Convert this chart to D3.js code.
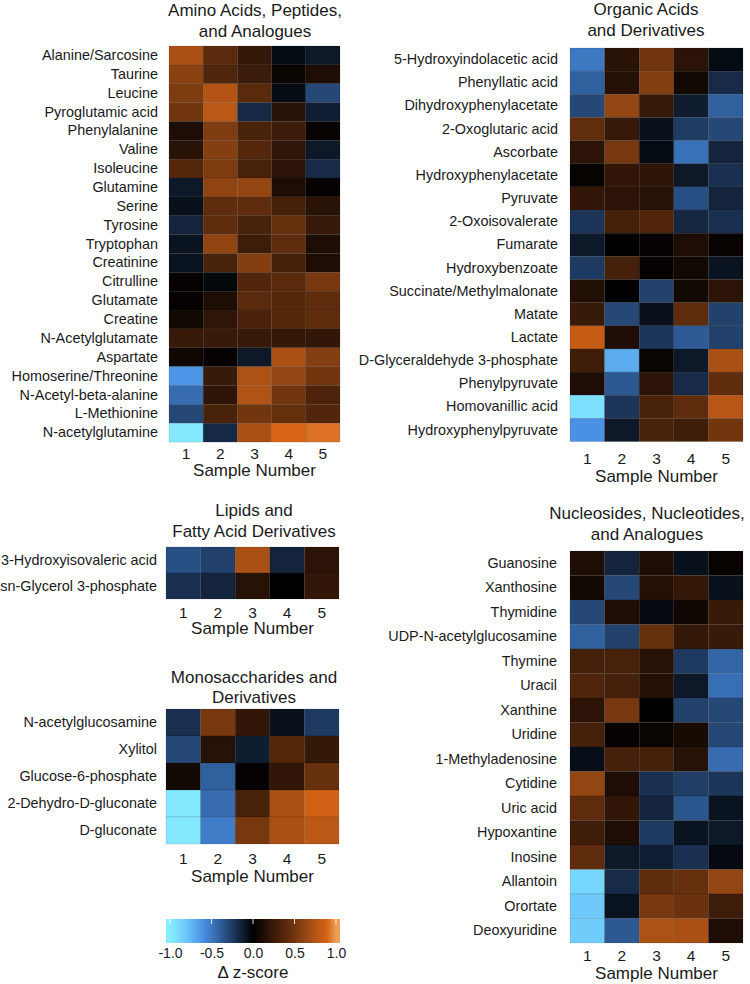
<!DOCTYPE html>
<html>
<head>
<meta charset="utf-8">
<script src="https://cdn.jsdelivr.net/npm/d3@7"></script>
<style>
  html, body { margin: 0; padding: 0; background: #fff; }
  svg { display: block; }
  text { font-family: "Liberation Sans", Arial, Helvetica, sans-serif; fill: #1a1a1a; }
</style>
</head>
<body>
<svg id="chart" width="750" height="984"></svg>
<script>
// ---------------- DATA ----------------
const sampleTicks = ["1", "2", "3", "4", "5"];

const aminoTitle = ["Amino Acids, Peptides,", "and Analogues"];
const aminoLabels = ["Alanine/Sarcosine", "Taurine", "Leucine", "Pyroglutamic acid", "Phenylalanine",
  "Valine", "Isoleucine", "Glutamine", "Serine", "Tyrosine", "Tryptophan", "Creatinine",
  "Citrulline", "Glutamate", "Creatine", "N-Acetylglutamate", "Aspartate",
  "Homoserine/Threonine", "N-Acetyl-beta-alanine", "L-Methionine", "N-acetylglutamine"];
const aminoValues = [
  [0.72, 0.40, 0.22, -0.05, -0.10],
  [0.60, 0.35, 0.25, 0.04, 0.12],
  [0.55, 0.75, 0.40, -0.05, -0.30],
  [0.50, 0.78, -0.17, 0.17, -0.13],
  [0.12, 0.55, 0.32, 0.25, 0.03],
  [0.17, 0.57, 0.37, 0.20, -0.10],
  [0.37, 0.55, 0.32, 0.18, -0.18],
  [-0.10, 0.62, 0.64, 0.12, 0.02],
  [-0.07, 0.42, 0.42, 0.30, 0.17],
  [-0.15, 0.42, 0.32, 0.45, 0.23],
  [-0.08, 0.62, 0.26, 0.42, 0.12],
  [-0.08, 0.32, 0.57, 0.30, 0.12],
  [0.02, -0.03, 0.36, 0.40, 0.52],
  [0.02, 0.12, 0.40, 0.37, 0.42],
  [0.08, 0.20, 0.33, 0.37, 0.42],
  [0.24, 0.24, 0.24, 0.22, 0.21],
  [0.06, 0.02, -0.10, 0.72, 0.57],
  [-0.62, 0.24, 0.73, 0.64, 0.50],
  [-0.45, 0.19, 0.74, 0.50, 0.34],
  [-0.30, 0.32, 0.50, 0.44, 0.36],
  [-0.97, -0.17, 0.72, 0.90, 0.92]
];

const organicTitle = ["Organic Acids", "and Derivatives"];
const organicLabels = ["5-Hydroxyindolacetic acid", "Phenyllatic acid", "Dihydroxyphenylacetate",
  "2-Oxoglutaric acid", "Ascorbate", "Hydroxyphenylacetate", "Pyruvate", "2-Oxoisovalerate",
  "Fumarate", "Hydroxybenzoate", "Succinate/Methylmalonate", "Matate", "Lactate",
  "D-Glyceraldehyde 3-phosphate", "Phenylpyruvate", "Homovanillic acid", "Hydroxyphenylpyruvate"];
const organicValues = [
  [-0.50, 0.17, 0.50, 0.18, -0.05],
  [-0.40, 0.15, 0.57, 0.08, -0.18],
  [-0.30, 0.63, 0.24, -0.12, -0.40],
  [0.43, 0.23, -0.07, -0.25, -0.30],
  [0.18, 0.52, -0.05, -0.47, -0.15],
  [0.03, 0.21, 0.19, -0.10, -0.20],
  [0.21, 0.18, 0.16, -0.33, -0.15],
  [-0.22, 0.30, 0.36, -0.16, -0.20],
  [-0.10, 0.00, 0.02, 0.12, 0.03],
  [-0.24, 0.30, 0.02, 0.08, -0.08],
  [0.14, 0.00, -0.27, 0.08, 0.18],
  [0.24, -0.30, -0.07, 0.42, -0.27],
  [0.82, 0.13, -0.22, -0.38, -0.27],
  [0.27, -0.70, 0.04, -0.10, 0.72],
  [0.12, -0.37, 0.18, -0.18, 0.42],
  [-0.93, -0.22, 0.32, 0.42, 0.77],
  [-0.60, -0.10, 0.32, 0.27, 0.50]
];

const lipidTitle = ["Lipids and", "Fatty Acid Derivatives"];
const lipidLabels = ["3-Hydroxyisovaleric acid", "sn-Glycerol 3-phosphate"];
const lipidValues = [
  [-0.33, -0.27, 0.72, -0.15, 0.18],
  [-0.20, -0.15, 0.16, 0.00, 0.21]
];

const monoTitle = ["Monosaccharides and", "Derivatives"];
const monoLabels = ["N-acetylglucosamine", "Xylitol", "Glucose-6-phosphate",
  "2-Dehydro-D-gluconate", "D-gluconate"];
const monoValues = [
  [-0.20, 0.52, 0.21, -0.07, -0.24],
  [-0.30, 0.16, -0.12, 0.37, 0.22],
  [0.08, -0.40, 0.02, 0.21, 0.46],
  [-0.97, -0.45, 0.32, 0.72, 0.87],
  [-0.97, -0.52, 0.52, 0.72, 0.78]
];

const nucTitle = ["Nucleosides, Nucleotides,", "and Analogues"];
const nucLabels = ["Guanosine", "Xanthosine", "Thymidine", "UDP-N-acetylglucosamine", "Thymine",
  "Uracil", "Xanthine", "Uridine", "1-Methyladenosine", "Cytidine", "Uric acid", "Hypoxantine",
  "Inosine", "Allantoin", "Orortate", "Deoxyuridine"];
const nucValues = [
  [0.12, -0.15, 0.12, -0.07, 0.03],
  [0.08, -0.30, 0.15, 0.22, -0.07],
  [-0.30, 0.12, -0.04, 0.06, 0.24],
  [-0.40, -0.27, 0.45, 0.22, 0.24],
  [0.30, 0.31, 0.16, -0.24, -0.42],
  [0.35, 0.30, 0.15, -0.10, -0.46],
  [0.18, 0.52, 0.01, -0.27, -0.30],
  [0.30, 0.02, 0.04, 0.10, -0.30],
  [-0.06, 0.30, 0.30, 0.16, -0.45],
  [0.63, 0.12, -0.20, -0.26, -0.22],
  [0.42, 0.21, -0.15, -0.36, -0.08],
  [0.27, 0.12, -0.24, -0.08, -0.10],
  [0.42, -0.10, -0.13, -0.20, -0.04],
  [-0.88, -0.18, 0.42, 0.45, 0.63],
  [-0.82, -0.08, 0.52, 0.47, 0.26],
  [-0.83, -0.37, 0.73, 0.72, 0.12]
];

const colorbarTicks = [-1.0, -0.5, 0.0, 0.5, 1.0];
const colorbarTitle = "\u0394 z-score";
const axisTitle = "Sample Number";

// colour scale stops
const colorStops = [-1.0, -0.8, -0.6, -0.4, -0.2, 0.0, 0.2, 0.4, 0.6, 0.8, 0.9, 1.0];
const colorRange = ["#88eeff", "#6cc6fa", "#4a90e4", "#30609e", "#1a3050", "#000000",
  "#301608", "#5a2a0c", "#8a4212", "#c05a16", "#d86418", "#eca058"];

// ---------------- DRAW ----------------
const color = d3.scaleLinear().domain(colorStops).range(colorRange)
  .interpolate(d3.interpolateRgb).clamp(true);

const svg = d3.select("#chart");
const FONT = '"Liberation Sans", Arial, Helvetica, sans-serif';

function panel(cfg) {
  const { title, labels, values, x0, x1, y0, rowH, titleX, titleY, labelGap, tickY, snY } = cfg;
  const g = svg.append("g");
  const x = d3.scaleBand().domain(sampleTicks).range([x0, x1]);
  const y = d3.scaleBand().domain(labels).range([y0, y0 + rowH * labels.length]);
  const cx = (x0 + x1) / 2;
  const yBottom = y0 + rowH * labels.length;

  // title
  title.forEach((t, i) => {
    g.append("text").attr("x", titleX).attr("y", titleY[i]).attr("dy", "0.36em")
      .attr("text-anchor", "middle").style("font-size", "17px").text(t);
  });

  // cells
  const cells = [];
  values.forEach((row, ri) => row.forEach((v, ci) => cells.push({ r: labels[ri], c: sampleTicks[ci], v })));
  g.selectAll("rect.cell").data(cells).join("rect").attr("class", "cell")
    .attr("x", d => x(d.c)).attr("y", d => y(d.r))
    .attr("width", x.bandwidth()).attr("height", y.bandwidth())
    .attr("fill", d => color(d.v))
    .attr("stroke", "rgba(0,0,0,0.18)").attr("stroke-width", 0.6);

  // row labels
  const ya = g.append("g").attr("transform", `translate(${x0},0)`)
    .call(d3.axisLeft(y).tickSize(0).tickPadding(labelGap));
  ya.select(".domain").remove();
  ya.selectAll("text").style("font-size", "14.4px").style("font-family", FONT).attr("fill", "#1a1a1a");

  // column ticks
  const xa = g.append("g").attr("transform", `translate(0,${yBottom})`)
    .call(d3.axisBottom(x).tickSize(0).tickPadding(0));
  xa.select(".domain").remove();
  xa.selectAll("text").style("font-size", "15.5px").style("font-family", FONT).attr("fill", "#1a1a1a")
    .attr("y", tickY).attr("dy", "0.36em");

  g.append("text").attr("x", cx).attr("y", yBottom + snY).attr("dy", "0.36em")
    .attr("text-anchor", "middle").style("font-size", "17px").text(axisTitle);
}

panel({ title: aminoTitle, labels: aminoLabels, values: aminoValues, titleX: 255,
  x0: 169, x1: 340, y0: 46, rowH: 18.86, titleY: [10, 31], labelGap: 11, tickY: 11, snY: 27.5 });
panel({ title: organicTitle, labels: organicLabels, values: organicValues, titleX: 646,
  x0: 570, x1: 743, y0: 48, rowH: 23.15, titleY: [9, 30], labelGap: 12, tickY: 17, snY: 34 });
panel({ title: lipidTitle, labels: lipidLabels, values: lipidValues, titleX: 254,
  x0: 166, x1: 339, y0: 547, rowH: 26, titleY: [510, 531], labelGap: 9, tickY: 13, snY: 29 });
panel({ title: monoTitle, labels: monoLabels, values: monoValues, titleX: 254,
  x0: 166, x1: 339, y0: 709, rowH: 27, titleY: [677, 697], labelGap: 9, tickY: 14, snY: 32 });
panel({ title: nucTitle, labels: nucLabels, values: nucValues, titleX: 647,
  x0: 570, x1: 743, y0: 551, rowH: 24.5, titleY: [513, 534], labelGap: 13, tickY: 12, snY: 30 });

// ---------------- COLORBAR ----------------
const cb = svg.append("g");
const cbx = d3.scaleLinear().domain([-1, 1]).range([170, 336]);
const cbLeft = 166, cbRight = 340, cbTop = 919, cbH = 24;
const defs = svg.append("defs");
const grad = defs.append("linearGradient").attr("id", "cbgrad")
  .attr("gradientUnits", "userSpaceOnUse").attr("x1", cbLeft).attr("x2", cbRight).attr("y1", 0).attr("y2", 0);
d3.range(0, 41).forEach(i => {
  const px = cbLeft + (cbRight - cbLeft) * i / 40;
  grad.append("stop").attr("offset", (i / 40 * 100) + "%").attr("stop-color", color(cbx.invert(px)));
});
cb.append("rect").attr("x", cbLeft).attr("y", cbTop).attr("width", cbRight - cbLeft).attr("height", cbH)
  .attr("fill", "url(#cbgrad)");
cb.selectAll("line.cbt").data(colorbarTicks).join("line").attr("class", "cbt")
  .attr("x1", d => cbx(d)).attr("x2", d => cbx(d)).attr("y1", cbTop).attr("y2", cbTop + 5)
  .attr("stroke", "#fff").attr("stroke-opacity", 0.85).attr("stroke-width", 1);
const cba = cb.append("g").attr("transform", `translate(0,${cbTop + cbH})`)
  .call(d3.axisBottom(cbx).tickValues(colorbarTicks).tickFormat(d => d.toFixed(1)).tickSize(0).tickPadding(0));
cba.select(".domain").remove();
cba.selectAll("text").style("font-size", "14px").style("font-family", FONT).attr("fill", "#1a1a1a")
  .attr("y", 10).attr("dy", "0.36em");
cb.append("text").attr("x", (cbLeft + cbRight) / 2).attr("y", 972).attr("dy", "0.36em")
  .attr("text-anchor", "middle").style("font-size", "17px").text(colorbarTitle);
</script>
</body>
</html>
